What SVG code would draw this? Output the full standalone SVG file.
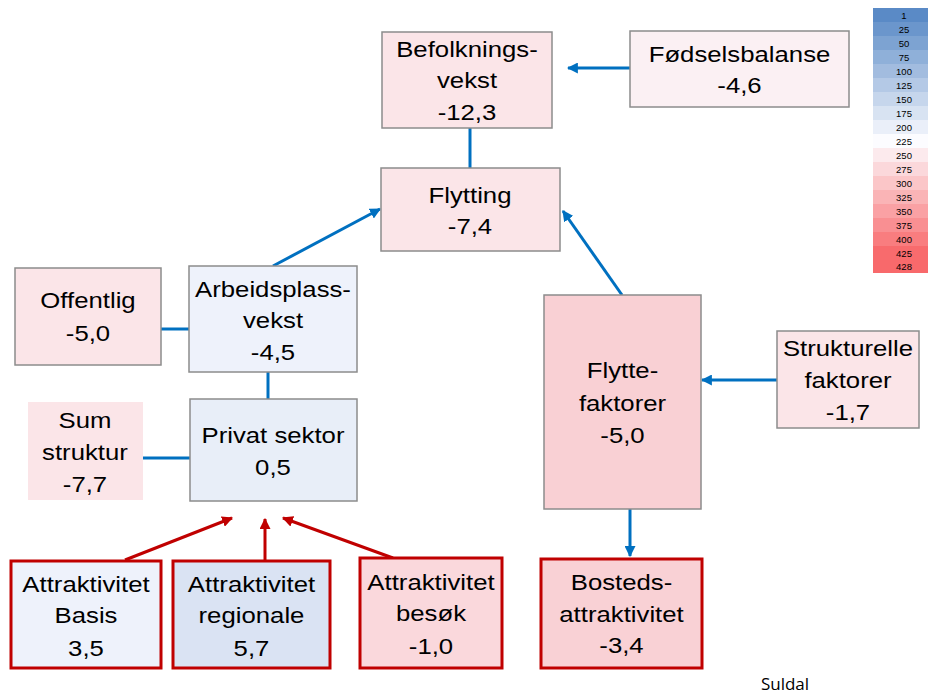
<svg xmlns="http://www.w3.org/2000/svg" width="928" height="697" viewBox="0 0 928 697">
<defs>
<style>
.t{font-family:"Liberation Sans",Arial,sans-serif;font-size:22px;fill:#000;text-anchor:middle}
.n{stroke:#8c8c8c;stroke-width:1.5}
.r{stroke:#c00000;stroke-width:3}
.cb{stroke:#0070c0;stroke-width:3;fill:none}
.cr{stroke:#c00000;stroke-width:3;fill:none}
.lg{font-family:"Liberation Sans",Arial,sans-serif;font-size:9.5px;fill:#000;text-anchor:middle}
</style>
<marker id="ab" viewBox="0 0 10 10" refX="9" refY="5" markerWidth="11" markerHeight="11" markerUnits="userSpaceOnUse" orient="auto"><path d="M0,0 L10,5 L0,10 Z" fill="#0070c0"/></marker>
<marker id="ar" viewBox="0 0 10 10" refX="9" refY="5" markerWidth="11" markerHeight="11" markerUnits="userSpaceOnUse" orient="auto"><path d="M0,0 L10,5 L0,10 Z" fill="#c00000"/></marker>
</defs>
<rect width="928" height="697" fill="#fff"/>
<g id="connectors">
<line class="cb" x1="630" y1="68" x2="568" y2="68" marker-end="url(#ab)"/>
<line class="cb" x1="470" y1="128" x2="470" y2="168"/>
<line class="cb" x1="273" y1="266" x2="380" y2="209" marker-end="url(#ab)"/>
<line class="cb" x1="622" y1="295" x2="563" y2="211" marker-end="url(#ab)"/>
<line class="cb" x1="161" y1="329" x2="189" y2="329"/>
<line class="cb" x1="268" y1="372" x2="268" y2="399"/>
<line class="cb" x1="143" y1="458" x2="190" y2="458"/>
<line class="cb" x1="777" y1="380" x2="702" y2="380" marker-end="url(#ab)"/>
<line class="cb" x1="630" y1="509" x2="630" y2="556" marker-end="url(#ab)"/>
<line class="cr" x1="125" y1="560" x2="232" y2="518" marker-end="url(#ar)"/>
<line class="cr" x1="265" y1="560" x2="265" y2="519" marker-end="url(#ar)"/>
<line class="cr" x1="393" y1="558" x2="283" y2="518" marker-end="url(#ar)"/>
</g>
<g id="befolkningsvekst"><rect class="n" x="382" y="32" width="170" height="96" fill="#fbe5e8"/>
<text class="t" transform="translate(467,0) scale(1.17,1)"><tspan x="0" y="57">Befolknings-</tspan><tspan x="0" y="88">vekst</tspan><tspan x="0" y="120">-12,3</tspan></text></g>
<g id="fodselsbalanse"><rect class="n" x="630" y="31" width="219" height="76" fill="#fbf0f3"/>
<text class="t" transform="translate(739.5,0) scale(1.17,1)"><tspan x="0" y="62">Fødselsbalanse</tspan><tspan x="0" y="93">-4,6</tspan></text></g>
<g id="flytting"><rect class="n" x="381" y="168" width="179" height="83" fill="#fbe5e8"/>
<text class="t" transform="translate(470,0) scale(1.17,1)"><tspan x="0" y="203">Flytting</tspan><tspan x="0" y="234">-7,4</tspan></text></g>
<g id="offentlig"><rect class="n" x="15" y="268" width="146" height="97" fill="#fbe5e8"/>
<text class="t" transform="translate(88,0) scale(1.17,1)"><tspan x="0" y="308">Offentlig</tspan><tspan x="0" y="341">-5,0</tspan></text></g>
<g id="arbeidsplassvekst"><rect class="n" x="189" y="266" width="168" height="106" fill="#eef2fb"/>
<text class="t" transform="translate(273,0) scale(1.17,1)"><tspan x="0" y="297">Arbeidsplass-</tspan><tspan x="0" y="328">vekst</tspan><tspan x="0" y="360">-4,5</tspan></text></g>
<g id="privat-sektor"><rect class="n" x="190" y="399" width="167" height="102" fill="#e8eef8"/>
<text class="t" transform="translate(273,0) scale(1.17,1)"><tspan x="0" y="443">Privat sektor</tspan><tspan x="0" y="475">0,5</tspan></text></g>
<g id="sum-struktur"><rect x="28" y="402" width="115" height="98" fill="#fbe5e8"/>
<text class="t" transform="translate(85,0) scale(1.17,1)"><tspan x="0" y="428">Sum</tspan><tspan x="0" y="460">struktur</tspan><tspan x="0" y="492">-7,7</tspan></text></g>
<g id="attraktivitet-basis"><rect class="r" x="11" y="561" width="150" height="107" fill="#eef2fb"/>
<text class="t" transform="translate(86,0) scale(1.17,1)"><tspan x="0" y="592">Attraktivitet</tspan><tspan x="0" y="623">Basis</tspan><tspan x="0" y="656">3,5</tspan></text></g>
<g id="attraktivitet-regionale"><rect class="r" x="173" y="561" width="157" height="107" fill="#dae3f3"/>
<text class="t" transform="translate(251.5,0) scale(1.17,1)"><tspan x="0" y="592">Attraktivitet</tspan><tspan x="0" y="623">regionale</tspan><tspan x="0" y="656">5,7</tspan></text></g>
<g id="attraktivitet-besok"><rect class="r" x="360" y="558" width="142" height="110" fill="#fad8dc"/>
<text class="t" transform="translate(431,0) scale(1.17,1)"><tspan x="0" y="590">Attraktivitet</tspan><tspan x="0" y="621">besøk</tspan><tspan x="0" y="654">-1,0</tspan></text></g>
<g id="flyttefaktorer"><rect class="n" x="544" y="295" width="157" height="214" fill="#f9d0d4"/>
<text class="t" transform="translate(622.5,0) scale(1.17,1)"><tspan x="0" y="378">Flytte-</tspan><tspan x="0" y="411">faktorer</tspan><tspan x="0" y="443">-5,0</tspan></text></g>
<g id="strukturelle-faktorer"><rect class="n" x="777" y="331" width="142" height="97" fill="#fbe5e8"/>
<text class="t" transform="translate(848,0) scale(1.17,1)"><tspan x="0" y="356">Strukturelle</tspan><tspan x="0" y="388">faktorer</tspan><tspan x="0" y="420">-1,7</tspan></text></g>
<g id="bostedsattraktivitet"><rect class="r" x="541" y="559" width="161" height="109" fill="#f9d1d5"/>
<text class="t" transform="translate(621.5,0) scale(1.17,1)"><tspan x="0" y="590">Bosteds-</tspan><tspan x="0" y="622">attraktivitet</tspan><tspan x="0" y="653">-3,4</tspan></text></g>
<g id="suldal"><text x="785" y="690" style="font-family:'Open Sans','Liberation Sans',sans-serif;font-size:17px;text-anchor:middle">Suldal</text></g>
<g id="legend">
<rect x="873" y="8" width="55" height="14" fill="#5a8ac6"/>
<rect x="873" y="22" width="55" height="14" fill="#6b96cc"/>
<rect x="873" y="36" width="55" height="14" fill="#7da3d2"/>
<rect x="873" y="50" width="55" height="14" fill="#8fb0d9"/>
<rect x="873" y="64" width="55" height="14" fill="#a2bcdf"/>
<rect x="873" y="78" width="55" height="14" fill="#b4c9e6"/>
<rect x="873" y="92" width="55" height="14" fill="#c6d6ec"/>
<rect x="873" y="106" width="55" height="14" fill="#d8e3f2"/>
<rect x="873" y="120" width="55" height="14" fill="#eaeff9"/>
<rect x="873" y="134" width="55" height="14" fill="#fcfcff"/>
<rect x="873" y="148" width="55" height="14" fill="#fceaed"/>
<rect x="873" y="162" width="55" height="14" fill="#fbd8db"/>
<rect x="873" y="176" width="55" height="14" fill="#fbc6c8"/>
<rect x="873" y="190" width="55" height="14" fill="#fab4b6"/>
<rect x="873" y="204" width="55" height="14" fill="#faa1a4"/>
<rect x="873" y="218" width="55" height="14" fill="#f98f92"/>
<rect x="873" y="232" width="55" height="14" fill="#f97d7f"/>
<rect x="873" y="246" width="55" height="14" fill="#f86b6d"/>
<rect x="873" y="260" width="55" height="13" fill="#f8696b"/>
<text class="lg" x="904" y="18.5">1</text>
<text class="lg" x="904" y="32.5">25</text>
<text class="lg" x="904" y="46.5">50</text>
<text class="lg" x="904" y="60.5">75</text>
<text class="lg" x="904" y="74.5">100</text>
<text class="lg" x="904" y="88.5">125</text>
<text class="lg" x="904" y="102.5">150</text>
<text class="lg" x="904" y="116.5">175</text>
<text class="lg" x="904" y="130.5">200</text>
<text class="lg" x="904" y="144.5">225</text>
<text class="lg" x="904" y="158.5">250</text>
<text class="lg" x="904" y="172.5">275</text>
<text class="lg" x="904" y="186.5">300</text>
<text class="lg" x="904" y="200.5">325</text>
<text class="lg" x="904" y="214.5">350</text>
<text class="lg" x="904" y="228.5">375</text>
<text class="lg" x="904" y="242.5">400</text>
<text class="lg" x="904" y="256.5">425</text>
<text class="lg" x="904" y="270">428</text>
</g>
</svg>
